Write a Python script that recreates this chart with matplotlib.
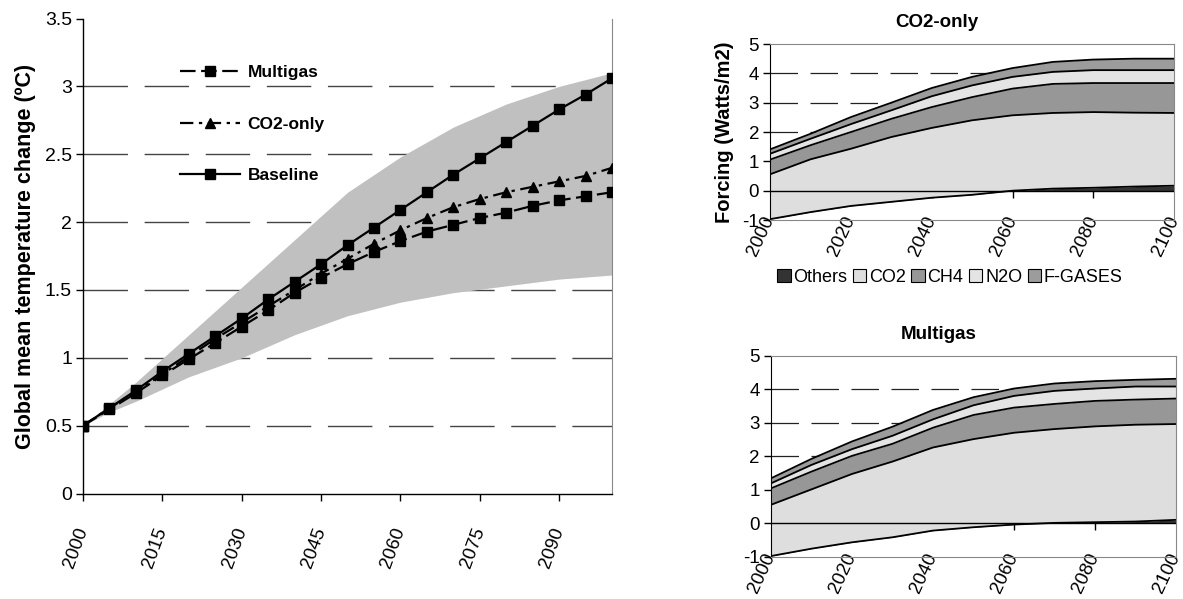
import numpy as np
import matplotlib
matplotlib.use("Agg")
import matplotlib.pyplot as plt
from matplotlib.patches import Patch
from matplotlib import font_manager

# ---------------- data: left chart ----------------
years = list(range(2000, 2101, 5))
baseline = [0.50, 0.63, 0.76, 0.90, 1.03, 1.16, 1.29, 1.43, 1.56, 1.69, 1.83,
            1.96, 2.09, 2.22, 2.35, 2.47, 2.59, 2.71, 2.83, 2.94, 3.06]
co2_only = [0.50, 0.63, 0.75, 0.88, 1.01, 1.14, 1.26, 1.38, 1.50, 1.62, 1.73,
            1.84, 1.94, 2.03, 2.11, 2.17, 2.22, 2.26, 2.30, 2.34, 2.40]
multigas = [0.50, 0.62, 0.74, 0.87, 0.99, 1.11, 1.23, 1.35, 1.48, 1.59, 1.69,
            1.78, 1.86, 1.93, 1.98, 2.03, 2.07, 2.12, 2.16, 2.19, 2.22]
band_years = [2000, 2005, 2010, 2020, 2030, 2040, 2050, 2060, 2070, 2080, 2090, 2100]
band_upper = [0.50, 0.66, 0.82, 1.17, 1.52, 1.87, 2.22, 2.48, 2.70, 2.87, 3.00, 3.10]
band_lower = [0.50, 0.60, 0.68, 0.86, 1.00, 1.17, 1.31, 1.41, 1.48, 1.53, 1.58, 1.61]
left_xticks = [2000, 2015, 2030, 2045, 2060, 2075, 2090]
left_yticks = [0, 0.5, 1, 1.5, 2, 2.5, 3, 3.5]

# ---------------- data: right charts (forcing, W/m2) ----------------
f_years = list(range(2000, 2101, 10))
gases = ["Others", "CO2", "CH4", "N2O", "F-GASES"]
co2only_forcing = {
    "Others":  [-0.97, -0.73, -0.52, -0.38, -0.24, -0.14, 0.00, 0.07, 0.10, 0.14, 0.17],
    "CO2":     [1.53, 1.80, 1.95, 2.21, 2.38, 2.54, 2.57, 2.58, 2.58, 2.52, 2.48],
    "CH4":     [0.50, 0.48, 0.57, 0.62, 0.71, 0.79, 0.91, 0.99, 0.99, 1.01, 1.02],
    "N2O":     [0.20, 0.22, 0.27, 0.29, 0.37, 0.40, 0.40, 0.41, 0.44, 0.44, 0.44],
    "F-GASES": [0.15, 0.17, 0.24, 0.26, 0.28, 0.29, 0.30, 0.34, 0.36, 0.39, 0.39],
}
multigas_forcing = {
    "Others":  [-0.98, -0.76, -0.57, -0.42, -0.22, -0.12, -0.04, 0.01, 0.03, 0.05, 0.10],
    "CO2":     [1.53, 1.77, 2.04, 2.26, 2.48, 2.63, 2.74, 2.80, 2.86, 2.89, 2.86],
    "CH4":     [0.49, 0.53, 0.54, 0.53, 0.59, 0.72, 0.75, 0.75, 0.76, 0.75, 0.76],
    "N2O":     [0.15, 0.20, 0.20, 0.24, 0.25, 0.29, 0.35, 0.39, 0.37, 0.39, 0.36],
    "F-GASES": [0.15, 0.18, 0.23, 0.27, 0.28, 0.24, 0.22, 0.22, 0.22, 0.20, 0.23],
}
right_xticks = [2000, 2020, 2040, 2060, 2080, 2100]
right_yticks = [-1, 0, 1, 2, 3, 4, 5]

gas_colors = {"Others": "#333333", "CO2": "#dedede", "CH4": "#979797",
              "N2O": "#e4e4e4", "F-GASES": "#9c9c9c"}

_names = {f.name for f in font_manager.fontManager.ttflist}
_narrow_cands = ["Liberation Sans Narrow", "Arial Narrow", "DejaVu Sans Condensed"]
NARROW = [n for n in _narrow_cands if n in _names] + ["Liberation Sans", "DejaVu Sans"]
ARIAL = ["Liberation Sans", "DejaVu Sans"]

fig = plt.figure(figsize=(11.83, 5.99), dpi=100)

# ---------------- left chart ----------------
ax = fig.add_axes([0.0702, 0.1761, 0.4472, 0.7930])
ax.set_xlim(2000, 2100)
ax.set_ylim(0, 3.5)
for yv in left_yticks[1:-1]:
    ax.axhline(yv, color="#444444", lw=1.0, ls=(0, (32, 12)), zorder=0)
ax.fill_between(band_years, band_lower, band_upper, color="#c0c0c0", lw=0, zorder=1)

ax.plot(years, multigas, color="black", lw=1.6, ls=(0, (7, 2.5)),
        marker="s", ms=7, zorder=3, label="Multigas")
ax.plot(years, co2_only, color="black", lw=1.6, ls=(0, (6, 2.5, 1.5, 2.5)),
        marker="^", ms=7.5, zorder=3, label="CO2-only")
ax.plot(years, baseline, color="black", lw=1.6, ls="-",
        marker="s", ms=7, zorder=4, label="Baseline")

ax.set_xticks(left_xticks)
ax.set_xticklabels([str(v) for v in left_xticks], rotation=70, ha="right", va="center",
                   rotation_mode="anchor", fontsize=13.5, family=NARROW)
ax.set_yticks(left_yticks)
ax.set_yticklabels([f"{v:g}" for v in left_yticks], fontsize=14, family=NARROW)
ax.tick_params(axis="x", direction="out", length=5, width=1, pad=20)
ax.tick_params(axis="y", direction="out", length=5, width=1, pad=3)
ax.spines["top"].set_visible(False)
ax.spines["right"].set_color("#888888")
for s in ("left", "bottom"):
    ax.spines[s].set_color("black")
    ax.spines[s].set_linewidth(1.0)
ax.set_ylabel("Global mean temperature change (ºC)", fontsize=15.5,
              fontweight="bold", family=ARIAL, labelpad=6)

leg = ax.legend(loc="upper left", bbox_to_anchor=(0.17, 0.917), frameon=False,
                borderaxespad=0, handlelength=3.45, handletextpad=0.45,
                labelspacing=2.1, numpoints=1,
                prop={"family": NARROW, "weight": "bold", "size": 12.5})

# ---------------- right charts ----------------
def forcing_panel(rect, data, title, ylabel=None, legend=False):
    a = fig.add_axes(rect)
    a.set_xlim(2000, 2100)
    a.set_ylim(-1, 5)
    for yv in [1, 2, 3, 4]:
        a.axhline(yv, color="#222222", lw=0.9, ls=(0, (22, 10)), zorder=0)
    base = np.zeros(len(f_years))
    for g in gases:
        vals = np.array(data[g], dtype=float)
        top = base + vals
        a.fill_between(f_years, base, top, color=gas_colors[g], lw=0, zorder=1)
        a.plot(f_years, top, color="black", lw=1.3, zorder=2)
        base = top
    a.axhline(0, color="black", lw=1.0, zorder=3)
    sec = a.secondary_xaxis(1 / 6)
    sec.set_xticks(right_xticks[1:-1])
    sec.tick_params(direction="out", length=5, width=1, labelbottom=False, labeltop=False)
    sec.spines["bottom"].set_visible(False)
    sec.spines["top"].set_visible(False)
    a.set_xticks(right_xticks)
    a.set_xticklabels([str(v) for v in right_xticks], rotation=65, ha="right", va="center",
                      rotation_mode="anchor", fontsize=13.5, family=ARIAL)
    a.tick_params(axis="x", length=0, pad=-2)
    a.set_yticks(right_yticks)
    a.set_yticklabels([str(v) for v in right_yticks], fontsize=13.5, family=ARIAL)
    a.tick_params(axis="y", direction="out", length=5, width=1, pad=3)
    for s in ("top", "right", "bottom"):
        a.spines[s].set_color("#888888")
    a.spines["left"].set_color("black")
    a.set_title(title, fontsize=13.5, fontweight="bold", family=ARIAL, pad=12, x=0.413)
    if ylabel:
        a.set_ylabel(ylabel, fontsize=14.5, fontweight="bold", family=ARIAL, labelpad=6)
    if legend:
        handles = [Patch(facecolor=gas_colors[g], edgecolor="black", lw=0.8) for g in gases]
        a.legend(handles, gases, loc="center", bbox_to_anchor=(0.445, -0.324),
                 ncol=5, frameon=False, handlelength=0.75, handleheight=0.75,
                 handletextpad=0.15, columnspacing=0.3, borderaxespad=0,
                 prop={"family": ARIAL, "size": 13})
    return a

forcing_panel([0.651, 0.6327, 0.3415, 0.2938], co2only_forcing, "CO2-only",
              ylabel="Forcing (Watts/m2)", legend=True)
forcing_panel([0.6517, 0.0706, 0.3424, 0.3356], multigas_forcing, "Multigas")

fig.savefig("out.png", dpi=100)
